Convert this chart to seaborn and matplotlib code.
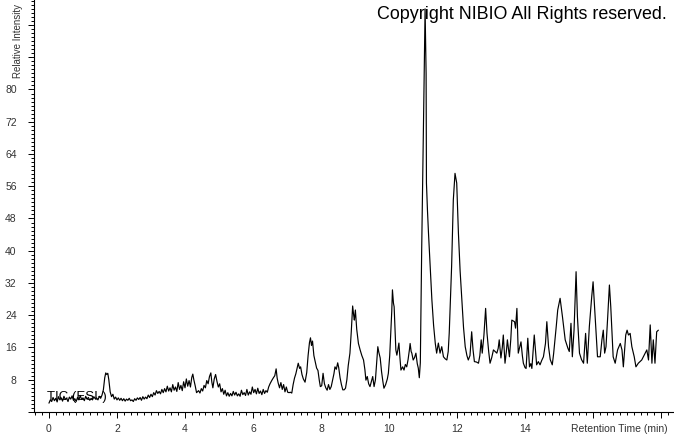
import matplotlib
matplotlib.use("Agg")
import matplotlib.pyplot as plt
import numpy as np
import pandas as pd
import seaborn as sns
from matplotlib.ticker import MultipleLocator

# ---- data ----
retention_time = [
    0.00, 0.04, 0.08, 0.12, 0.16, 0.20, 0.24, 0.28, 0.32, 0.36, 0.40, 0.44, 0.48, 0.52, 0.56, 0.60,
    0.64, 0.68, 0.72, 0.76, 0.80, 0.84, 0.88, 0.92, 0.96, 1.00, 1.04, 1.08, 1.12, 1.16, 1.20, 1.24,
    1.28, 1.32, 1.36, 1.40, 1.44, 1.48, 1.52, 1.56, 1.60, 1.64, 1.67, 1.70, 1.73, 1.76, 1.80, 1.84,
    1.88, 1.92, 1.96, 2.00, 2.04, 2.08, 2.12, 2.16, 2.20, 2.24, 2.28, 2.32, 2.36, 2.40, 2.44, 2.48,
    2.52, 2.56, 2.60, 2.64, 2.68, 2.72, 2.76, 2.80, 2.84, 2.88, 2.92, 2.96, 3.00, 3.04, 3.08, 3.12,
    3.16, 3.20, 3.24, 3.28, 3.32, 3.36, 3.40, 3.44, 3.48, 3.52, 3.56, 3.60, 3.64, 3.68, 3.72, 3.76,
    3.80, 3.84, 3.88, 3.92, 3.96, 4.00, 4.04, 4.08, 4.12, 4.16, 4.20, 4.23, 4.26, 4.30, 4.34, 4.40,
    4.44, 4.48, 4.52, 4.56, 4.60, 4.64, 4.68, 4.72, 4.76, 4.79, 4.82, 4.86, 4.90, 4.94, 4.98, 5.02,
    5.06, 5.10, 5.14, 5.18, 5.22, 5.26, 5.30, 5.34, 5.38, 5.42, 5.46, 5.50, 5.54, 5.58, 5.62, 5.66,
    5.70, 5.74, 5.78, 5.82, 5.86, 5.90, 5.94, 5.98, 6.02, 6.06, 6.10, 6.14, 6.18, 6.22, 6.26, 6.30,
    6.34, 6.38, 6.42, 6.46, 6.50, 6.55, 6.60, 6.64, 6.68, 6.71, 6.74, 6.78, 6.82, 6.86, 6.90, 6.94,
    6.98, 7.02, 7.06, 7.10, 7.14, 7.18, 7.22, 7.26, 7.30, 7.33, 7.37, 7.40, 7.44, 7.48, 7.53, 7.58,
    7.62, 7.66, 7.69, 7.72, 7.75, 7.79, 7.83, 7.87, 7.91, 7.95, 7.98, 8.02, 8.06, 8.10, 8.14, 8.18,
    8.22, 8.26, 8.30, 8.34, 8.38, 8.41, 8.45, 8.49, 8.52, 8.56, 8.60, 8.64, 8.68, 8.72, 8.76, 8.80,
    8.85, 8.89, 8.93, 8.96, 8.98, 9.01, 9.05, 9.10, 9.15, 9.20, 9.25, 9.29, 9.32, 9.36, 9.40, 9.44,
    9.48, 9.52, 9.56, 9.60, 9.64, 9.67, 9.70, 9.74, 9.78, 9.82, 9.85, 9.90, 9.95, 9.98, 10.02, 10.05,
    10.08, 10.10, 10.13, 10.15, 10.18, 10.20, 10.23, 10.26, 10.29, 10.32, 10.35, 10.40, 10.44, 10.48, 10.52, 10.56,
    10.60, 10.62, 10.65, 10.67, 10.71, 10.75, 10.79, 10.83, 10.86, 10.89, 10.92, 10.96, 11.00, 11.03, 11.06, 11.09,
    11.10, 11.13, 11.16, 11.21, 11.26, 11.31, 11.36, 11.40, 11.45, 11.50, 11.55, 11.60, 11.65, 11.70, 11.74, 11.77,
    11.80, 11.84, 11.89, 11.94, 11.99, 12.04, 12.09, 12.14, 12.19, 12.24, 12.29, 12.33, 12.38, 12.43, 12.47, 12.51,
    12.57, 12.63, 12.67, 12.71, 12.74, 12.79, 12.84, 12.88, 12.93, 12.97, 13.02, 13.07, 13.12, 13.17, 13.21, 13.24,
    13.29, 13.33, 13.36, 13.41, 13.45, 13.48, 13.54, 13.58, 13.61, 13.65, 13.69, 13.72, 13.76, 13.80, 13.84, 13.88,
    13.92, 13.95, 14.00, 14.03, 14.08, 14.13, 14.17, 14.20, 14.27, 14.34, 14.39, 14.44, 14.49, 14.54, 14.60, 14.64,
    14.69, 14.74, 14.80, 14.84, 14.88, 14.92, 14.96, 15.03, 15.10, 15.18, 15.26, 15.30, 15.35, 15.39, 15.44, 15.50,
    15.54, 15.60, 15.66, 15.72, 15.78, 15.83, 15.89, 15.96, 16.00, 16.06, 16.13, 16.21, 16.26, 16.30, 16.34, 16.38,
    16.43, 16.48, 16.52, 16.59, 16.65, 16.72, 16.80, 16.85, 16.89, 16.96, 17.00, 17.04, 17.09, 17.14, 17.21, 17.26,
    17.33, 17.43, 17.53, 17.58, 17.63, 17.68, 17.73, 17.77, 17.82, 17.87, 17.92,
]
relative_intensity = [
    2.2, 3.0, 2.6, 3.6, 2.8, 3.4, 2.5, 3.8, 3.0, 3.5, 2.7, 3.9, 3.1, 3.4, 2.6, 3.7,
    3.2, 4.0, 2.9, 3.3, 2.6, 3.6, 3.0, 4.1, 3.1, 3.5, 2.8, 3.9, 3.2, 3.6, 2.9, 3.4,
    3.0, 3.8, 3.3, 3.5, 3.0, 3.9, 3.4, 4.2, 5.5, 8.5, 9.7, 9.3, 9.6, 8.0, 5.0, 3.8,
    4.4, 3.2, 3.7, 3.0, 3.5, 2.9, 3.4, 2.8, 3.3, 2.7, 3.2, 2.9, 3.4, 2.8, 3.0, 2.6,
    3.3, 2.9, 3.5, 3.1, 3.6, 2.9, 3.8, 3.2, 3.7, 3.3, 4.2, 3.6, 4.4, 3.8, 4.8, 4.2,
    5.3, 4.6, 5.1, 4.5, 5.6, 4.8, 5.8, 5.0, 6.4, 5.2, 6.0, 5.0, 6.8, 5.4, 6.2, 5.1,
    7.3, 5.6, 6.6, 5.3, 7.5, 6.0, 8.2, 6.4, 7.8, 6.2, 8.6, 9.4, 8.0, 6.5, 4.8, 5.3,
    4.7, 5.8, 5.2, 6.6, 6.0, 7.8, 7.0, 8.8, 9.7, 7.4, 6.0, 8.2, 9.3, 7.6, 6.2, 7.0,
    5.0, 5.8, 4.4, 5.4, 4.0, 4.8, 3.9, 4.6, 4.0, 5.1, 4.2, 4.9, 4.0, 4.5, 3.9, 5.4,
    4.3, 4.8, 4.1, 5.6, 4.2, 5.0, 4.4, 6.2, 4.8, 5.6, 4.5, 5.9, 4.6, 5.2, 4.3, 5.6,
    4.6, 5.3, 4.9, 6.2, 7.0, 7.8, 8.5, 9.0, 10.7, 8.4, 7.2, 6.0, 7.3, 5.6, 6.8, 5.0,
    6.2, 4.9, 4.8, 4.9, 4.7, 6.8, 8.4, 9.5, 11.0, 12.1, 10.8, 11.2, 9.3, 8.2, 7.4, 9.8,
    14.0, 17.2, 18.4, 16.5, 17.6, 14.0, 12.5, 10.9, 10.3, 7.8, 6.3, 6.5, 9.6, 7.0, 6.0, 5.4,
    6.8, 5.6, 6.3, 7.9, 9.5, 11.2, 10.6, 12.2, 11.0, 8.5, 6.8, 5.5, 5.5, 5.9, 8.0, 11.5,
    14.6, 20.0, 26.3, 24.0, 22.8, 25.3, 20.5, 17.0, 15.4, 14.0, 12.9, 10.5, 7.9, 8.8, 7.0, 6.3,
    7.6, 8.8, 6.3, 8.0, 12.5, 16.2, 14.8, 13.4, 10.0, 7.5, 5.9, 6.8, 8.2, 9.6, 14.0, 19.6,
    25.0, 30.3, 27.0, 26.1, 20.0, 15.4, 14.1, 15.5, 17.1, 13.5, 10.4, 11.2, 10.4, 11.8, 11.2, 13.0,
    15.5, 17.0, 15.0, 14.6, 12.9, 13.5, 14.6, 12.0, 10.9, 8.5, 12.2, 40.2, 65.0, 81.6, 100.0, 84.0,
    56.8, 50.0, 44.4, 36.0, 27.8, 21.5, 17.0, 14.6, 17.1, 14.6, 16.2, 13.7, 13.2, 12.9, 15.0, 19.6,
    27.0, 36.1, 52.6, 59.2, 56.8, 44.4, 35.0, 27.8, 21.0, 16.2, 14.0, 12.9, 14.0, 19.9, 15.4, 12.5,
    12.4, 12.1, 14.0, 17.9, 14.6, 19.0, 25.7, 19.6, 15.0, 12.1, 13.5, 15.4, 15.0, 14.6, 15.8, 17.9,
    13.4, 16.0, 19.1, 12.1, 15.0, 17.9, 13.7, 18.0, 22.8, 22.6, 22.4, 20.8, 25.7, 14.6, 16.0, 17.4,
    14.0, 12.1, 11.0, 10.8, 18.3, 11.2, 12.0, 10.8, 19.1, 11.7, 12.5, 11.7, 12.8, 13.7, 17.0, 22.4,
    16.2, 13.0, 11.7, 14.5, 17.9, 21.5, 25.3, 28.2, 23.6, 17.9, 15.8, 15.0, 22.0, 13.7, 20.3, 34.8,
    23.6, 14.6, 13.0, 12.1, 19.5, 12.1, 21.2, 28.6, 32.3, 23.6, 13.7, 13.7, 17.9, 20.3, 14.6, 16.2,
    23.6, 31.5, 26.1, 13.7, 12.1, 15.4, 17.0, 15.4, 11.2, 19.1, 20.3, 19.1, 19.5, 16.2, 13.7, 11.2,
    12.1, 12.9, 14.6, 15.4, 12.9, 21.6, 12.1, 17.9, 12.1, 19.9, 20.3,
]
x_tick_values = [0, 2, 4, 6, 8, 10, 12, 14, 16, 18]
x_tick_labels = ["0", "2", "4", "6", "8", "10", "12", "14", "", ""]
y_tick_values = [0, 8, 16, 24, 32, 40, 48, 56, 64, 72, 80, 88, 96]
y_tick_labels = ["", "8", "16", "24", "32", "40", "48", "56", "64", "72", "80", "", ""]

df = pd.DataFrame({"time": retention_time, "intensity": relative_intensity})

sns.set_theme(style="ticks")
plt.rcParams["font.family"] = ["Liberation Sans", "DejaVu Sans"]

W, H = 674, 434
fig = plt.figure(figsize=(W / 100, H / 100), dpi=100)
fig.patch.set_facecolor("white")
ax = fig.add_axes([34 / W, 22 / H, (673 - 34) / W, 412 / H])
ax.set_facecolor("white")

sns.lineplot(data=df, x="time", y="intensity", ax=ax, color="black",
             linewidth=0.85, estimator=None, sort=False)

ax.set_xlim(-0.44, 18.35)
ax.set_ylim(0, 102.2)
ax.set_xlabel("")
ax.set_ylabel("")

ax.set_xticks(x_tick_values)
ax.set_xticklabels(x_tick_labels)
ax.set_yticks(y_tick_values)
ax.set_yticklabels(y_tick_labels)
ax.xaxis.set_minor_locator(MultipleLocator(0.2))
ax.yaxis.set_minor_locator(MultipleLocator(1))

for s in ["top", "right"]:
    ax.spines[s].set_visible(False)
for s in ["left", "bottom"]:
    ax.spines[s].set_color("black")
    ax.spines[s].set_linewidth(0.8)

ax.tick_params(axis="both", which="major", length=4, width=0.7, color="black",
               labelsize=7.5, labelcolor="#333333")
ax.tick_params(axis="both", which="minor", length=2.2, width=0.7, color="black")
ax.tick_params(axis="y", which="major", pad=8.5)
ax.tick_params(axis="x", which="major", pad=5)

fig.text(47 / W, 1 - 400 / H, "TIC (ESI-)", fontsize=9.5, color="black",
         ha="left", va="baseline")
fig.text(667 / W, 1 - 6 / H, "Copyright NIBIO All Rights reserved.", fontsize=12.9,
         color="black", ha="right", va="top")
fig.text(668 / W, 1 - 424 / H, "Retention Time (min)", fontsize=7.5, color="#333333",
         ha="right", va="top")
fig.text(18 / W, 1 - 78 / H, "Relative Intensity", fontsize=7.0, color="#333333",
         rotation=90, ha="center", va="bottom")

fig.savefig("out.png", dpi=100, facecolor="white")
